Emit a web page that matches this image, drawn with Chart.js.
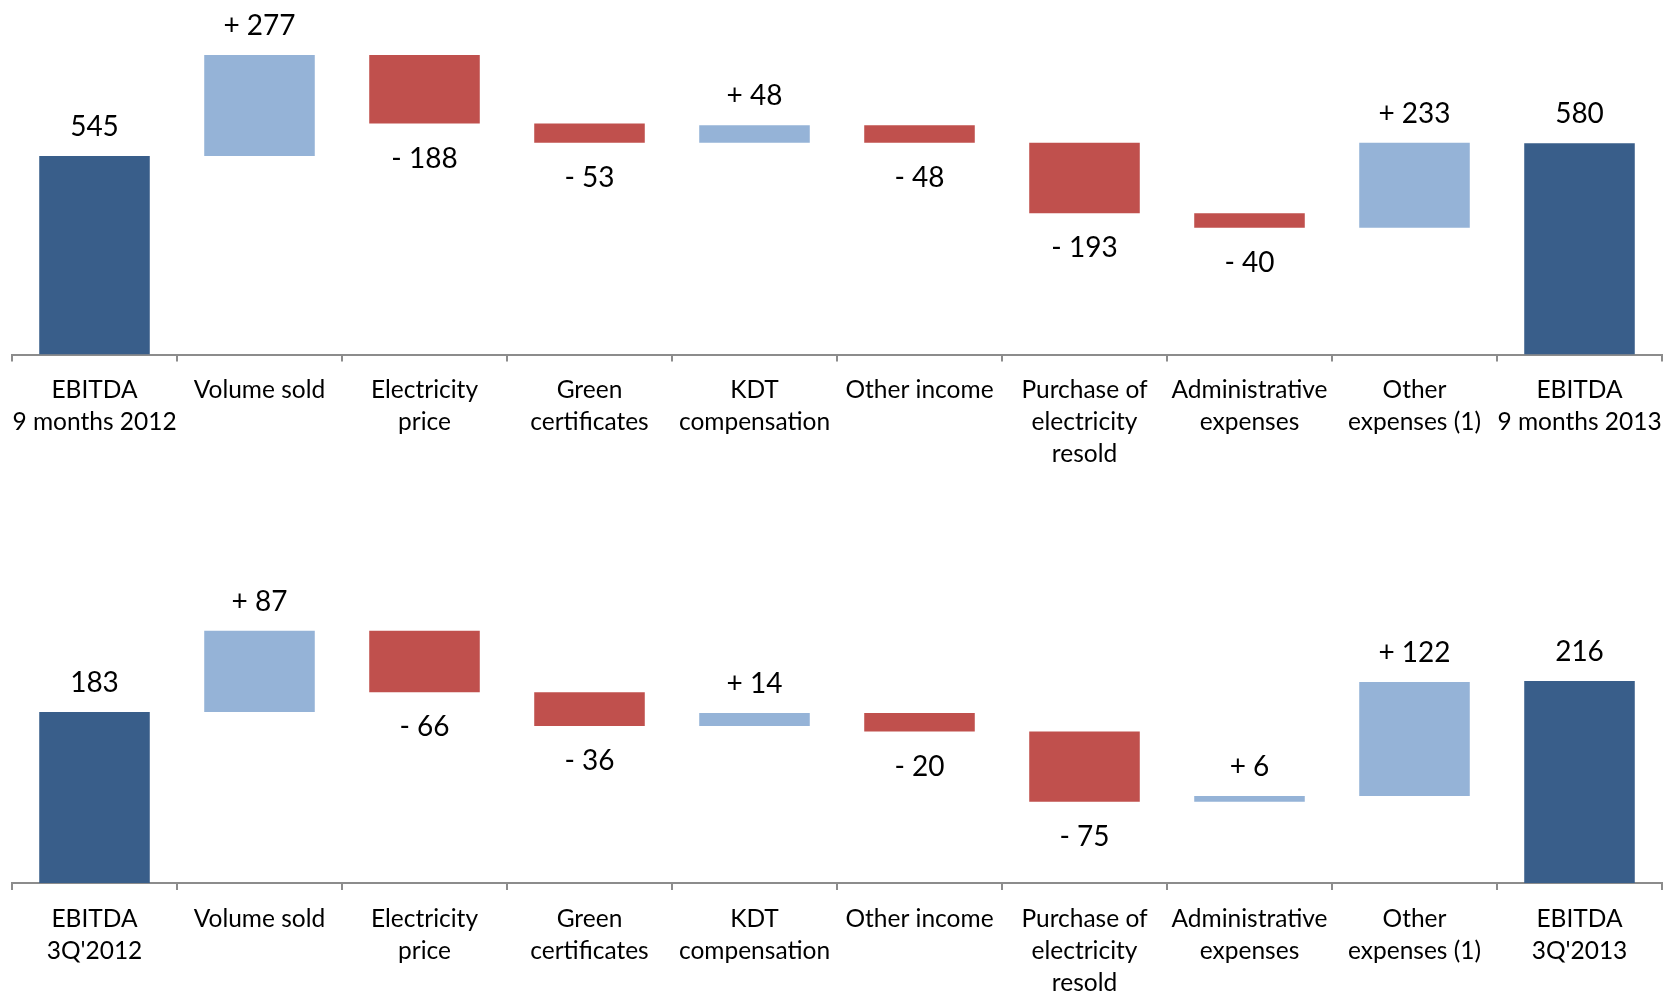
<!DOCTYPE html>
<html>
<head>
<meta charset="utf-8">
<script src="https://cdn.jsdelivr.net/npm/chart.js@4.4.0/dist/chart.umd.min.js"></script>
<style>
  body { margin: 0; background: #fff; }
  .box { position: absolute; left: 0; width: 1664px; }
  #top { top: 0; height: 497px; }
  #bottom { top: 497px; height: 498px; }
</style>
</head>
<body>
<div class="box" id="top"><canvas id="c1" width="1664" height="497"></canvas></div>
<div class="box" id="bottom"><canvas id="c2" width="1664" height="498"></canvas></div>
<script>
// categories
const labelsTop = [['EBITDA', '9 months 2012'], 'Volume sold', ['Electricity', 'price'], ['Green', 'certificates'],
    ['KDT', 'compensation'], 'Other income', ['Purchase of', 'electricity', 'resold'], ['Administrative', 'expenses'],
    ['Other', 'expenses (1)'], ['EBITDA', '9 months 2013']];
const labelsBottom = [['EBITDA', "3Q'2012"], 'Volume sold', ['Electricity', 'price'], ['Green', 'certificates'],
    ['KDT', 'compensation'], 'Other income', ['Purchase of', 'electricity', 'resold'], ['Administrative', 'expenses'],
    ['Other', 'expenses (1)'], ['EBITDA', "3Q'2013"]];

// first and last are totals, the rest are changes
const valuesTop = [545, 277, -188, -53, 48, -48, -193, -40, 233, 580];
const valuesBottom = [183, 87, -66, -36, 14, -20, -75, 6, 122, 216];

const DARK = '#395E8A', UP = '#95B3D7', DOWN = '#C0504D';

function waterfall(values) {
    const bars = [], colors = [], texts = [];
    let run = 0;
    values.forEach((v, i) => {
        if (i === 0 || i === values.length - 1) {
            bars.push([0, v]);
            colors.push(DARK);
            texts.push(String(v));
            run = v;
        } else {
            bars.push([run, run + v]);
            colors.push(v < 0 ? DOWN : UP);
            texts.push((v < 0 ? '- ' : '+ ') + Math.abs(v));
            run += v;
        }
    });
    return { bars, colors, texts };
}

const valueLabels = {
    id: 'valueLabels',
    afterDatasetsDraw(chart, args, opts) {
        const ctx = chart.ctx;
        const meta = chart.getDatasetMeta(0);
        const vals = opts.values;
        ctx.save();
        ctx.font = '28px Lato';
        ctx.fillStyle = '#000';
        ctx.textAlign = 'center';
        ctx.textBaseline = 'alphabetic';
        meta.data.forEach((bar, i) => {
            const top = Math.min(bar.y, bar.base);
            const bottom = Math.max(bar.y, bar.base);
            const t = opts.texts[i];
            if (vals[i] < 0 && i > 0) {
                ctx.fillText(t, bar.x, bottom + 44);
            } else {
                ctx.fillText(t, bar.x, top - 20);
            }
        });
        ctx.restore();
    }
};

function makeChart(id, labels, values, yMax, axisHeight) {
    const wf = waterfall(values);
    return new Chart(document.getElementById(id), {
        type: 'bar',
        data: {
            labels: labels,
            datasets: [{
                data: wf.bars,
                backgroundColor: wf.colors,
                borderWidth: 0,
                barPercentage: 0.67,
                categoryPercentage: 1
            }]
        },
        options: {
            responsive: false,
            animation: false,
            layout: { padding: { left: 12, right: 2, top: 0, bottom: 0 } },
            plugins: {
                legend: { display: false },
                tooltip: { enabled: false },
                valueLabels: { values: values, texts: wf.texts }
            },
            scales: {
                x: {
                    afterFit: (axis) => {
                        axis.height = axisHeight;
                        // keep wide edge labels from shrinking the plot
                        axis.paddingLeft = 0;
                        axis.paddingRight = 0;
                    },
                    grid: {
                        offset: true,
                        drawOnChartArea: false,
                        drawTicks: true,
                        tickLength: 7,
                        color: '#8C8C8C',
                        lineWidth: 2
                    },
                    border: { display: true, color: '#8C8C8C', width: 2 },
                    ticks: {
                        autoSkip: false,
                        maxRotation: 0,
                        minRotation: 0,
                        padding: 13,
                        color: '#000',
                        font: { family: 'Lato', size: 24.5, lineHeight: 1.3 }
                    }
                },
                y: { display: false, min: 0, max: yMax }
            }
        },
        plugins: [valueLabels]
    });
}

makeChart('c1', labelsTop, valuesTop, 973, 142.5);
makeChart('c2', labelsBottom, valuesBottom, 413, 112);
</script>
</body>
</html>
